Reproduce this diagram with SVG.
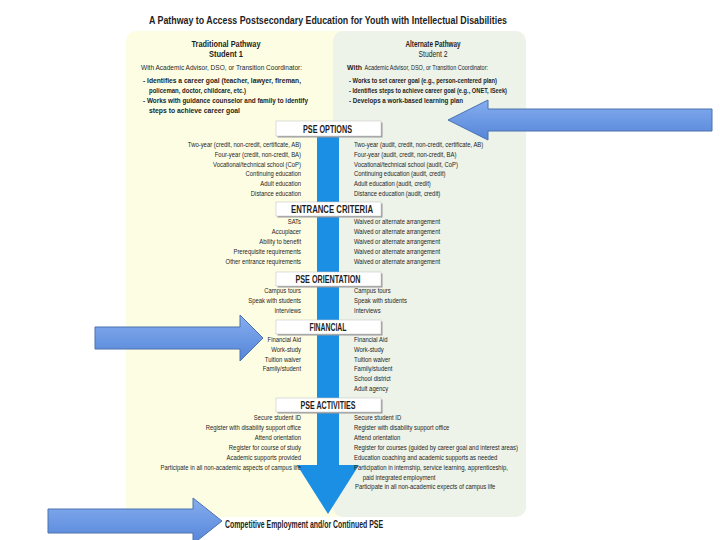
<svg xmlns="http://www.w3.org/2000/svg" width="720" height="540" viewBox="0 0 720 540">
<defs>
<style>
text{font-family:"Liberation Sans",Arial,sans-serif;fill:#1e1e1e}
.hd{font-weight:bold;font-size:9.5px;text-anchor:middle}
.sec{font-weight:bold;font-size:10px;text-anchor:middle}
.it{font-size:8px}
.l{text-anchor:end}
.b{font-weight:bold;font-size:8px}
.n{font-size:8px}
.shadow{fill:#9a9a9a}
.box{fill:#ffffff;stroke:#c8c8c8;stroke-width:0.6}
.big{fill:url(#bg);stroke:#4a72ad;stroke-width:1}
</style>
<linearGradient id="bg" x1="0" y1="0" x2="0" y2="1">
<stop offset="0" stop-color="#86aef0"/>
<stop offset="1" stop-color="#5585d8"/>
</linearGradient>
</defs>
<rect width="720" height="540" fill="#ffffff"/>
<text x="328" y="24" font-size="11" font-weight="bold" text-anchor="middle" textLength="358" lengthAdjust="spacingAndGlyphs">A Pathway to Access Postsecondary Education for Youth with Intellectual Disabilities</text>

<g id="panel-traditional">
<rect x="126" y="31" width="230" height="486" rx="10" fill="#fdfde4"/>
<text class="hd" x="226" y="46.5" textLength="69" lengthAdjust="spacingAndGlyphs">Traditional Pathway</text>
<text class="hd" x="226" y="57" textLength="34" lengthAdjust="spacingAndGlyphs">Student 1</text>
<text class="n" x="141" y="69.5" textLength="161" lengthAdjust="spacingAndGlyphs">With Academic Advisor, DSO, or Transition Coordinator:</text>
<text class="b" x="143" y="82.5" textLength="158" lengthAdjust="spacingAndGlyphs">-  Identifies a career goal (teacher, lawyer, fireman,</text>
<text class="b" x="149" y="92.5" textLength="97" lengthAdjust="spacingAndGlyphs">policeman, doctor, childcare, etc.)</text>
<text class="b" x="143" y="102.5" textLength="165" lengthAdjust="spacingAndGlyphs">-  Works with guidance counselor and family to identify</text>
<text class="b" x="149" y="112.5" textLength="91" lengthAdjust="spacingAndGlyphs">steps to achieve career goal</text>
</g>

<g id="panel-alternate">
<rect x="333" y="31" width="193" height="486" rx="10" fill="#edf3e8"/>
<text class="hd" x="433" y="46.5" textLength="55" lengthAdjust="spacingAndGlyphs">Alternate Pathway</text>
<text class="hd" x="433" y="57" textLength="29" lengthAdjust="spacingAndGlyphs" style="font-weight:normal">Student 2</text>
<text class="b" x="347" y="69.5" textLength="15" lengthAdjust="spacingAndGlyphs">With</text>
<text class="n" x="364.5" y="69.5" textLength="123.5" lengthAdjust="spacingAndGlyphs">Academic Advisor, DSO, or Transition Coordinator:</text>
<text class="b" x="349" y="82.5" textLength="148" lengthAdjust="spacingAndGlyphs">-  Works to set career goal (e.g., person-centered plan)</text>
<text class="b" x="349" y="92.5" textLength="158" lengthAdjust="spacingAndGlyphs">-  Identifies steps to achieve career goal (e.g., ONET, ISeek)</text>
<text class="b" x="349" y="102.5" textLength="114" lengthAdjust="spacingAndGlyphs">-  Develops a work-based learning plan</text>
</g>

<g id="connectors">
<rect x="317" y="128" width="22" height="338" fill="#1a8fe3"/>
<polygon points="297,465 359,465 328,514" fill="#1a8fe3"/>
</g>

<g id="sec-options">
<rect class="shadow" x="277.5" y="122.5" width="105" height="15"/>
<rect class="box" x="276" y="121" width="105" height="15"/>
<text class="sec" x="327.5" y="132.5" textLength="49" lengthAdjust="spacingAndGlyphs">PSE OPTIONS</text>
<g transform="scale(0.74,1)">
<text class="it l" x="406.8" y="147">Two-year (credit, non-credit, certificate, AB)</text>
<text class="it l" x="406.8" y="156.8">Four-year (credit, non-credit, BA)</text>
<text class="it l" x="406.8" y="166.6">Vocational/technical school (CoP)</text>
<text class="it l" x="406.8" y="176.4">Continuing education</text>
<text class="it l" x="406.8" y="186.2">Adult education</text>
<text class="it l" x="406.8" y="196">Distance education</text>
<text class="it" x="478.4" y="147">Two-year (audit, credit, non-credit, certificate, AB)</text>
<text class="it" x="478.4" y="156.8">Four-year (audit, credit, non-credit, BA)</text>
<text class="it" x="478.4" y="166.6">Vocational/technical school (audit, CoP)</text>
<text class="it" x="478.4" y="176.4">Continuing education (audit, credit)</text>
<text class="it" x="478.4" y="186.2">Adult education (audit, credit)</text>
<text class="it" x="478.4" y="196">Distance education (audit, credit)</text>
</g>
</g>

<g id="sec-entrance">
<rect class="shadow" x="277.5" y="203.5" width="105" height="14"/>
<rect class="box" x="276" y="202" width="105" height="14"/>
<text class="sec" x="332" y="213" textLength="82" lengthAdjust="spacingAndGlyphs">ENTRANCE CRITERIA</text>
<g transform="scale(0.74,1)">
<text class="it l" x="406.8" y="224">SATs</text>
<text class="it l" x="406.8" y="234">Accuplacer</text>
<text class="it l" x="406.8" y="244">Ability to benefit</text>
<text class="it l" x="406.8" y="254">Prerequisite requirements</text>
<text class="it l" x="406.8" y="264">Other entrance requirements</text>
<text class="it" x="478.4" y="224">Waived or alternate arrangement</text>
<text class="it" x="478.4" y="234">Waived or alternate arrangement</text>
<text class="it" x="478.4" y="244">Waived or alternate arrangement</text>
<text class="it" x="478.4" y="254">Waived or alternate arrangement</text>
<text class="it" x="478.4" y="264">Waived or alternate arrangement</text>
</g>
</g>

<g id="sec-orientation">
<rect class="shadow" x="277.5" y="273.5" width="105" height="14"/>
<rect class="box" x="276" y="272" width="105" height="14"/>
<text class="sec" x="328" y="283" textLength="65" lengthAdjust="spacingAndGlyphs">PSE ORIENTATION</text>
<g transform="scale(0.74,1)">
<text class="it l" x="406.8" y="293.5">Campus tours</text>
<text class="it l" x="406.8" y="303.5">Speak with students</text>
<text class="it l" x="406.8" y="313.2">Interviews</text>
<text class="it" x="478.4" y="293.5">Campus tours</text>
<text class="it" x="478.4" y="303.5">Speak with students</text>
<text class="it" x="478.4" y="313.2">Interviews</text>
</g>
</g>

<g id="sec-financial">
<rect class="shadow" x="277.5" y="321.5" width="105" height="14"/>
<rect class="box" x="276" y="320" width="105" height="14"/>
<text class="sec" x="328" y="331" textLength="37" lengthAdjust="spacingAndGlyphs">FINANCIAL</text>
<g transform="scale(0.74,1)">
<text class="it l" x="406.8" y="342">Financial Aid</text>
<text class="it l" x="406.8" y="352">Work-study</text>
<text class="it l" x="406.8" y="362">Tuition waiver</text>
<text class="it l" x="406.8" y="371.5">Family/student</text>
<text class="it" x="478.4" y="342">Financial Aid</text>
<text class="it" x="478.4" y="352">Work-study</text>
<text class="it" x="478.4" y="362">Tuition waiver</text>
<text class="it" x="478.4" y="371.5">Family/student</text>
<text class="it" x="478.4" y="381.5">School district</text>
<text class="it" x="478.4" y="391.5">Adult agency</text>
</g>
</g>

<g id="sec-activities">
<rect class="shadow" x="277.5" y="399.5" width="105" height="14"/>
<rect class="box" x="276" y="398" width="105" height="14"/>
<text class="sec" x="328" y="409" textLength="55" lengthAdjust="spacingAndGlyphs">PSE ACTIVITIES</text>
<g transform="scale(0.74,1)">
<text class="it l" x="406.8" y="420.5">Secure student ID</text>
<text class="it l" x="406.8" y="430.5">Register with disability support office</text>
<text class="it l" x="406.8" y="440.2">Attend orientation</text>
<text class="it l" x="406.8" y="450.2">Register for course of study</text>
<text class="it l" x="406.8" y="460.2">Academic supports provided</text>
<text class="it l" x="406.8" y="470.2">Participate in all non-academic aspects of campus life</text>
<text class="it" x="478.4" y="420.5">Secure student ID</text>
<text class="it" x="478.4" y="430.5">Register with disability support office</text>
<text class="it" x="478.4" y="440.2">Attend orientation</text>
<text class="it" x="478.4" y="450.2">Register for courses (guided by career goal and interest areas)</text>
<text class="it" x="478.4" y="460.2">Education coaching and academic supports as needed</text>
<text class="it" x="478.4" y="470.2">Participation in internship, service learning, apprenticeship,</text>
<text class="it" x="490.1" y="480">paid integrated employment</text>
<text class="it" x="479.7" y="489.5">Participate in all non-academic expects of campus life</text>
</g>
</g>

<g id="outcome">
<text x="225" y="528" font-size="11" font-weight="bold" textLength="158" lengthAdjust="spacingAndGlyphs">Competitive Employment and/or Continued PSE</text>
</g>

<g id="pointer-arrows">
<path class="big" d="M448,120 L488,100 L488,109 L712,109 L712,131 L488,131 L488,140 Z"/>
<path class="big" d="M95,327 L240,327 L240,315 L263,338 L240,361 L240,349 L95,349 Z"/>
<path class="big" d="M48,509 L193,509 L193,498 L222,521 L193,544 L193,533 L48,533 Z"/>
</g>
</svg>
